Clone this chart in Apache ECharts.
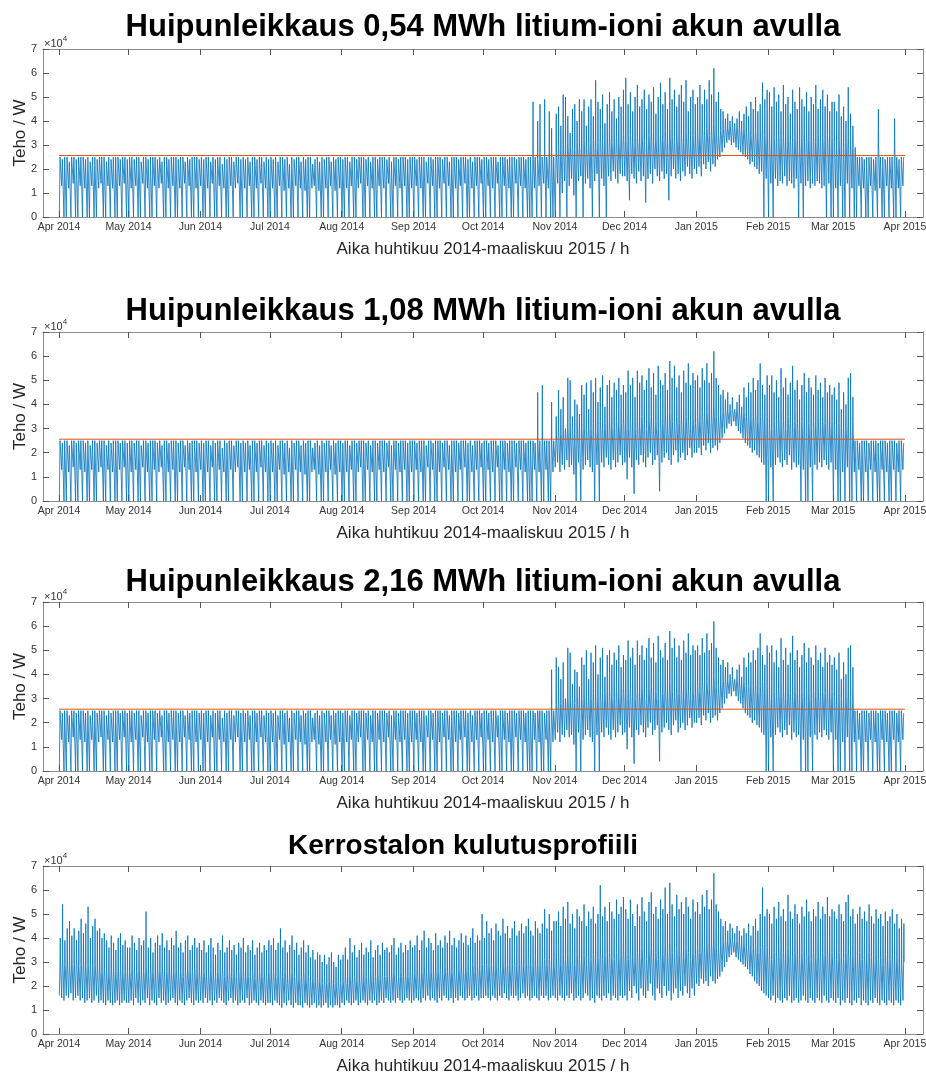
<!DOCTYPE html>
<html>
<head>
<meta charset="utf-8">
<script src="https://cdn.jsdelivr.net/npm/echarts@6/dist/echarts.min.js"></script>
<style>
html, body { margin: 0; padding: 0; background: #fff; }
#main { width: 926px; height: 1074px; }
</style>
</head>
<body>
<div id="main"></div>
<script>
// kuukausien alut päivinä 1.4.2014 alkaen + tikkien tekstit
const kuukausiAlut = [0, 30, 61, 91, 122, 153, 183, 214, 244, 275, 306, 334, 365];
const kuukausiNimet = ['Apr 2014', 'May 2014', 'Jun 2014', 'Jul 2014', 'Aug 2014', 'Sep 2014',
  'Oct 2014', 'Nov 2014', 'Dec 2014', 'Jan 2015', 'Feb 2015', 'Mar 2015', 'Apr 2015'];

// huipunleikkausraja, kW
const rajaTeho = 25.6;

// kerrostalon kulutus: päivän huippu, tavallinen taso ja pohja, kW (huhtikuu -> maaliskuu)
const kulutusHuiput = [
  40,54,39,44,47,41,44,39,43,48,42,46,53,40,45,48,43,44,40,42,39,36,41,38,35,40,42,37,39,36,
  36,41,38,35,40,37,39,51,36,40,34,38,41,37,42,36,39,35,40,37,43,36,38,34,39,41,35,37,40,36,38,
  35,39,34,37,40,36,33,38,35,41,34,36,39,35,37,33,38,36,40,34,37,35,39,33,36,38,34,37,35,39,
  37,40,35,38,44,36,39,34,37,41,35,38,33,36,39,34,37,32,35,31,34,33,30,33,29,32,34,30,28,33,31,
  33,36,31,40,34,37,32,35,38,33,36,34,39,32,35,37,33,38,35,36,34,37,40,33,36,38,34,37,35,39,36,
  37,41,35,39,43,36,40,38,35,42,37,39,36,41,38,43,37,40,36,39,42,38,41,37,40,44,38,41,39,50,
  40,47,42,44,39,46,43,41,48,42,45,40,44,47,41,43,46,42,45,48,43,41,47,44,42,46,52,44,50,43,47,
  47,51,45,53,48,55,46,50,44,52,49,47,54,45,51,48,53,46,50,62,49,53,47,55,51,48,56,50,53,57,
  52,48,56,50,45,54,49,57,51,47,55,59,50,53,48,56,52,61,50,63,54,49,58,52,55,50,57,53,48,56,51,
  55,50,58,53,60,52,56,67,54,51,48,45,47,43,46,44,42,45,43,41,44,42,46,41,45,48,43,50,61,49,52,
  50,46,53,48,55,49,52,47,58,51,48,54,50,46,53,49,56,51,47,52,49,55,48,53,50,57,49,52,
  51,48,54,50,47,55,58,49,52,46,50,53,48,51,47,54,49,46,52,48,50,45,51,47,49,52,46,50,44,48,46
];
const kulutusTaso = [
  30,31,29,30,28,30,29,31,28,29,30,28,29,27,28,29,27,28,26,27,26,25,27,26,25,26,27,25,26,25,
  26,27,25,26,27,25,26,28,25,27,26,25,27,26,28,25,26,27,25,26,27,25,26,24,26,27,25,26,27,25,26,
  25,26,24,25,27,25,24,26,25,27,24,25,26,24,25,24,26,25,27,24,25,24,26,23,25,26,24,25,24,26,
  25,26,24,25,27,24,26,23,25,26,24,25,23,24,26,23,24,22,23,22,23,22,21,22,21,22,23,21,20,22,21,
  22,24,21,25,23,24,22,23,25,22,24,23,25,22,24,25,23,25,24,24,23,25,26,23,24,26,24,25,24,26,25,
  25,27,24,26,28,25,27,26,25,27,26,27,25,28,26,28,26,27,25,27,28,26,28,26,27,29,26,28,27,29,
  27,29,28,29,27,30,28,27,30,28,29,27,29,30,28,29,30,28,29,31,29,28,30,29,28,30,31,29,31,28,30,
  30,32,29,33,31,33,30,32,29,33,31,30,33,29,32,31,33,30,32,35,31,33,30,34,32,31,34,32,33,35,
  33,31,35,32,30,34,32,36,33,31,35,36,32,34,31,35,33,37,32,38,34,32,36,33,35,32,36,34,31,35,33,
  36,34,38,35,38,35,37,40,36,35,37,38,39,38,40,39,38,39,38,37,38,36,37,35,36,37,34,36,38,35,36,
  33,31,34,32,35,32,34,31,36,33,32,34,33,31,34,32,35,33,31,34,32,35,32,34,33,35,32,34,
  33,31,34,32,31,34,36,32,33,30,32,34,31,33,30,34,32,30,33,31,32,29,33,30,31,33,30,32,29,31,30
];
const kulutusPohjat = [
  16,15,14,16,15,17,14,15,16,14,15,13,14,15,13,14,16,13,14,13,12,14,13,12,13,14,12,13,14,13,
  13,14,12,15,13,12,14,13,15,12,14,13,12,15,13,14,12,13,14,15,13,12,14,13,12,14,15,13,12,14,13,
  14,13,15,13,14,12,14,13,15,14,13,12,14,15,13,14,12,13,14,13,15,12,13,14,13,12,14,13,12,13,
  13,12,14,13,12,11,13,12,14,12,11,13,12,12,11,13,12,11,12,13,11,12,11,12,13,11,12,11,12,12,11,
  13,12,14,13,12,13,14,12,13,14,13,12,14,13,14,12,13,14,13,15,14,13,14,13,15,14,13,14,15,14,13,
  14,15,14,13,15,14,16,14,15,14,13,15,14,16,15,14,15,13,15,14,16,15,14,15,16,14,15,16,14,15,
  15,16,15,14,16,15,14,16,15,17,15,14,16,15,16,14,15,17,15,16,14,15,16,15,14,16,15,16,14,15,16,
  15,14,16,15,14,16,15,17,14,15,16,14,15,17,16,14,15,13,16,15,14,16,15,17,14,16,15,14,16,15,
  16,14,18,15,20,17,14,19,16,15,18,21,16,14,19,17,15,20,16,18,14,17,19,15,18,16,20,17,15,19,16,
  21,20,23,21,22,20,24,22,21,23,24,26,28,30,32,33,34,32,31,30,29,28,27,25,24,22,21,20,18,17,16,
  15,14,16,13,15,14,13,15,14,16,13,14,15,13,14,16,14,13,15,14,13,15,14,13,16,14,13,15,
  14,13,15,12,14,13,15,13,12,14,13,15,12,14,13,12,14,13,15,13,12,14,13,12,14,13,12,14,13,12,14
];

// huipunleikatut profiilit kulkevat kesällä samaa rataa (1.4.–21.10.)
const kesaHuiput = [
  25,24,25,25,23,25,25,24,25,25,25,24,25,23,25,25,24,25,25,25,23,25,24,25,25,25,24,25,25,24,
  25,25,24,25,25,23,25,25,24,25,25,25,24,25,23,25,25,24,25,25,25,24,25,25,23,25,24,25,25,25,24,
  25,24,25,25,23,25,24,25,25,22,25,24,25,25,23,25,25,24,25,24,25,23,25,25,24,25,25,23,25,24,
  25,24,25,23,25,25,24,25,22,25,24,25,25,23,25,24,25,25,22,24,25,23,25,24,25,25,23,25,24,25,25,
  24,25,25,23,25,25,24,25,25,25,24,25,23,25,25,24,25,25,25,24,25,23,25,25,24,25,25,25,24,25,25,
  25,24,25,25,25,23,25,25,24,25,25,25,24,25,25,23,25,25,25,24,25,25,25,24,25,23,25,25,25,24,
  25,25,24,25,25,25,23,25,25,25,24,25,25,25,24,25,25,25,24,25,25
];
const kesaPohjat = [
  0,13,0,0,12,0,14,0,0,13,0,12,0,0,13,0,0,12,14,0,0,13,0,12,0,0,13,0,14,0,
  0,12,0,13,0,0,14,0,12,0,0,13,0,12,14,0,0,12,0,13,0,0,12,0,14,0,13,0,0,12,0,
  13,0,0,12,0,14,0,0,13,0,12,0,0,13,0,12,14,0,0,12,0,13,0,0,12,0,14,0,12,0,
  0,12,0,0,13,0,11,0,12,0,0,13,0,12,0,11,0,0,12,13,0,11,0,0,12,0,13,0,11,0,12,
  0,0,12,0,13,0,0,12,14,0,0,13,0,12,0,0,13,0,12,0,14,0,0,13,0,12,0,13,0,0,12,
  0,13,0,12,0,0,14,0,13,0,0,12,0,14,0,13,0,0,12,0,13,0,14,0,0,12,0,13,0,14,
  0,0,13,0,12,0,14,0,0,13,0,12,0,0,14,0,13,0,12,0,0
];

// talvi 22.10.–31.3.: tavallinen taso on kaikilla akuilla sama, huiput ja pohjat akkukoon mukaan
const talviTaso = [
  24,25,24,25,25,25,25,25,24,25,
  27,29,28,30,28,31,29,30,28,31,29,30,32,29,31,30,32,29,31,33,30,32,29,33,31,30,33,31,32,34,
  32,30,34,31,30,33,31,35,32,30,34,35,31,33,30,34,32,36,31,37,33,31,35,32,34,31,35,33,30,34,32,
  35,33,37,34,37,34,36,39,35,34,36,37,38,37,38,38,37,38,37,36,37,35,36,34,35,36,33,35,37,34,35,
  32,30,33,31,34,31,33,30,35,32,31,33,32,30,33,31,34,32,30,33,31,34,31,33,32,34,31,33,
  31,29,32,30,29,31,33,30,29,27,25,25,25,25,25,25,25,25,25,30,25,25,25,25,25,25,29,25,25,25,25
];
const talviHuiput054 = [
  48,25,40,47,25,49,25,44,37,25,
  43,46,38,51,50,42,35,45,47,40,49,44,49,38,46,49,42,57,48,45,51,39,47,52,44,49,41,50,46,53,
  58,47,52,44,50,55,46,49,53,45,51,48,54,43,50,56,47,52,45,58,49,53,46,51,55,48,57,44,50,53,47,
  50,55,47,53,49,57,51,62,48,52,45,44,41,43,40,42,39,41,44,40,43,46,42,48,45,50,44,47,56,49,53,
  52,46,54,48,51,44,55,47,50,43,53,48,45,54,49,46,52,44,50,47,55,45,49,53,46,51,44,48,
  48,44,51,42,46,40,54,43,38,29,25,25,25,24,25,25,25,24,25,45,25,25,24,25,25,25,41,25,24,25,25
];
const talviPohjat054 = [
  0,12,0,13,0,14,0,12,0,0,
  0,14,0,10,15,0,13,16,9,0,15,17,0,14,16,12,0,15,18,0,16,13,0,17,15,19,16,14,18,17,
  17,15,7,18,16,14,19,15,17,6,16,18,14,20,17,15,19,16,18,7,17,20,16,18,15,19,17,21,18,16,20,
  18,21,17,22,20,23,19,22,21,24,25,27,29,31,32,30,31,29,28,27,26,25,24,22,23,21,20,18,19,0,16,
  0,14,0,16,13,15,14,17,13,15,14,12,16,0,14,0,13,15,12,14,13,15,14,12,13,0,14,0,
  0,12,0,13,0,0,14,0,12,0,0,13,0,12,0,0,13,0,11,0,12,0,0,13,0,12,0,0,12,0,13
];
const talviHuiput108 = [
  25,24,45,25,48,25,25,25,41,25,
  35,46,38,43,30,51,50,35,42,40,36,48,44,49,38,50,45,51,41,47,52,39,48,50,43,49,46,51,44,48,
  45,54,48,51,43,54,49,52,46,50,55,47,53,44,56,50,48,53,46,58,51,56,47,52,45,54,49,57,48,53,50,
  52,47,55,50,57,49,53,62,51,48,44,46,42,45,40,43,38,41,44,39,47,43,49,45,51,46,50,57,48,44,52,
  48,52,45,50,43,55,47,51,44,49,56,46,50,42,48,53,45,51,47,44,52,46,49,43,51,45,48,44,
  47,42,49,38,45,40,51,53,43,25,25,24,25,25,25,24,25,25,25,24,25,25,25,24,25,25,25,24,25,25,24
];
const talviPohjat108 = [
  0,13,0,12,0,0,13,0,0,12,
  14,16,12,15,13,17,14,15,11,0,16,0,13,15,17,14,12,0,15,0,16,14,18,15,13,17,14,16,19,15,
  16,9,18,14,3,17,15,19,16,14,18,20,15,17,19,4,16,18,20,17,15,19,21,16,18,20,17,19,22,18,20,
  20,22,19,23,21,24,20,22,23,21,24,26,28,30,32,31,33,31,29,28,26,24,23,22,20,21,19,18,16,15,0,
  0,14,0,15,18,16,14,17,15,19,13,16,14,15,0,13,0,0,14,0,15,13,16,14,17,15,13,16,
  0,13,0,0,12,0,14,0,0,12,0,13,0,0,12,0,13,0,12,0,0,13,0,12,0,0,13,0,12,0,13
];
const talviHuiput216 = [
  25,24,25,25,25,24,25,25,42,25,
  47,43,38,45,30,51,49,36,42,41,35,47,44,50,38,49,45,52,40,47,51,39,48,50,44,49,46,52,43,48,
  46,54,47,51,44,54,48,52,46,51,55,47,53,45,56,50,47,53,46,58,51,55,47,52,46,54,49,57,48,52,50,
  52,48,55,49,57,50,53,62,51,47,44,46,43,45,40,43,38,42,44,39,47,43,49,45,50,46,51,57,48,44,52,
  49,52,45,50,43,55,46,51,44,49,56,46,50,43,48,53,45,51,47,44,52,46,49,43,51,45,48,44,
  47,42,49,38,45,40,51,52,43,25,25,24,25,25,25,24,25,25,25,24,25,25,25,24,25,25,25,24,25,25,24
];
const talviPohjat216 = [
  0,13,0,12,0,0,13,0,0,12,
  13,16,12,15,14,17,14,15,11,0,16,0,13,15,17,14,12,0,15,0,16,14,18,15,13,17,14,16,19,15,
  16,9,18,14,3,17,15,19,16,14,18,20,15,17,19,4,16,18,20,17,15,19,21,16,18,20,17,19,22,18,20,
  20,22,19,23,21,24,20,22,23,21,24,26,28,30,32,31,33,31,29,28,26,24,23,22,20,21,19,18,16,15,0,
  0,14,0,15,18,16,14,17,15,19,13,16,14,15,0,13,0,0,14,0,15,13,16,14,17,15,13,16,
  0,13,0,0,12,0,14,0,0,12,0,13,0,0,12,0,13,0,12,0,0,13,0,12,0,0,13,0,12,0,13
];

// päivästä neljä pistettä: yön pohja, päivän taso, kapea huippu ja taas taso, W
function paivaSarja(pohjat, tasot, huiput) {
  const out = [];
  for (let d = 0; d < huiput.length; d++) {
    const t = tasot[d] == null ? huiput[d] : Math.min(tasot[d], huiput[d]);
    out.push([d + 0.15, pohjat[d] * 1000]);
    out.push([d + 0.45, t * 1000]);
    out.push([d + 0.55, huiput[d] * 1000]);
    out.push([d + 0.65, t * 1000]);
  }
  return out;
}

const kesaTyhja = new Array(kesaHuiput.length).fill(null);
const kuvat = [
  { otsikko: 'Huipunleikkaus 0,54 MWh litium-ioni akun avulla', top: 49, h: 168, ty: 27, tx: 483, koko: 31,
    huiput: kesaHuiput.concat(talviHuiput054), pohjat: kesaPohjat.concat(talviPohjat054),
    tasot: kesaTyhja.concat(talviTaso), raja: true },
  { otsikko: 'Huipunleikkaus 1,08 MWh litium-ioni akun avulla', top: 332, h: 169, ty: 311, tx: 483, koko: 31,
    huiput: kesaHuiput.concat(talviHuiput108), pohjat: kesaPohjat.concat(talviPohjat108),
    tasot: kesaTyhja.concat(talviTaso), raja: true },
  { otsikko: 'Huipunleikkaus 2,16 MWh litium-ioni akun avulla', top: 602, h: 169, ty: 582, tx: 483, koko: 31,
    huiput: kesaHuiput.concat(talviHuiput216), pohjat: kesaPohjat.concat(talviPohjat216),
    tasot: kesaTyhja.concat(talviTaso), raja: true },
  { otsikko: 'Kerrostalon kulutusprofiili', top: 866, h: 168, ty: 846, tx: 463, koko: 28,
    huiput: kulutusHuiput, pohjat: kulutusPohjat, tasot: kulutusTaso, raja: false }
];

const fontti = '"Liberation Sans", Arial, Helvetica, sans-serif';
const akseliVari = '#8c8c8c';
const tekstiVari = '#333333';
const xMin = -6.9, xMax = 372.8;

const grid = [], xAxis = [], yAxis = [], series = [], graphic = [];
kuvat.forEach((k, i) => {
  grid.push({ left: 43, width: 880, top: k.top, height: k.h, show: false, outerBoundsMode: 'none' });
  const tikit = { show: true, inside: true, length: 6, customValues: kuukausiAlut, lineStyle: { color: '#555', width: 1 } };
  xAxis.push({
    gridIndex: i, type: 'value', min: xMin, max: xMax, position: 'bottom',
    axisLine: { show: true, onZero: false, lineStyle: { color: akseliVari, width: 1 } },
    axisTick: tikit,
    axisLabel: {
      customValues: kuukausiAlut, fontSize: 10.5, fontFamily: fontti, color: tekstiVari, margin: 5,
      formatter: v => kuukausiNimet[kuukausiAlut.indexOf(v)]
    },
    splitLine: { show: false },
    name: 'Aika huhtikuu 2014-maaliskuu 2015 / h', nameLocation: 'middle', nameGap: 24, nameMoveOverlap: false,
    nameTextStyle: { fontSize: 17, fontFamily: fontti, color: '#262626' }
  });
  xAxis.push({
    gridIndex: i, type: 'value', min: xMin, max: xMax, position: 'top',
    axisLine: { show: true, onZero: false, lineStyle: { color: akseliVari, width: 1 } },
    axisTick: tikit, axisLabel: { show: false }, splitLine: { show: false }
  });
  const yTikit = { show: true, inside: true, length: 6, lineStyle: { color: '#555', width: 1 } };
  yAxis.push({
    gridIndex: i, type: 'value', min: 0, max: 70000, interval: 10000, position: 'left',
    axisLine: { show: true, onZero: false, lineStyle: { color: akseliVari, width: 1 } },
    axisTick: yTikit,
    axisLabel: { fontSize: 11, fontFamily: fontti, color: tekstiVari, margin: 6, formatter: v => String(v / 10000) },
    splitLine: { show: false },
    name: 'Teho / W', nameLocation: 'middle', nameGap: 14, nameRotate: 90, nameMoveOverlap: false,
    nameTextStyle: { fontSize: 17, fontFamily: fontti, color: '#262626' }
  });
  yAxis.push({
    gridIndex: i, type: 'value', min: 0, max: 70000, interval: 10000, position: 'right',
    axisLine: { show: true, onZero: false, lineStyle: { color: akseliVari, width: 1 } },
    axisTick: yTikit, axisLabel: { show: false }, splitLine: { show: false }
  });
  series.push({
    type: 'line', xAxisIndex: 2 * i, yAxisIndex: 2 * i,
    data: paivaSarja(k.pohjat, k.tasot, k.huiput),
    showSymbol: false, symbol: 'none', sampling: null,
    lineStyle: { color: '#0072BD', width: 0.8 }, z: 2
  });
  if (k.raja) {
    series.push({
      type: 'line', xAxisIndex: 2 * i, yAxisIndex: 2 * i,
      data: [[0, rajaTeho * 1000], [365, rajaTeho * 1000]],
      showSymbol: false, symbol: 'none',
      lineStyle: { color: '#D95319', width: 1 }, z: 3
    });
  }
  graphic.push({
    type: 'text', x: k.tx, y: k.ty,
    style: { text: k.otsikko, font: 'bold ' + k.koko + 'px ' + fontti, fill: '#000', align: 'center', verticalAlign: 'middle' }
  });
  graphic.push({
    type: 'text', x: 44, y: k.top,
    style: {
      text: '{a|×10}{b|4}', verticalAlign: 'bottom', align: 'left',
      rich: {
        a: { fontSize: 11, fontFamily: fontti, fill: tekstiVari, padding: [6, 0, 0, 0] },
        b: { fontSize: 8, fontFamily: fontti, fill: tekstiVari, padding: [0, 0, 4, 0] }
      }
    }
  });
});

const chart = echarts.init(document.getElementById('main'), null, { renderer: 'canvas' });
chart.setOption({
  animation: false,
  backgroundColor: '#fff',
  grid, xAxis, yAxis, series, graphic
});
</script>
</body>
</html>
